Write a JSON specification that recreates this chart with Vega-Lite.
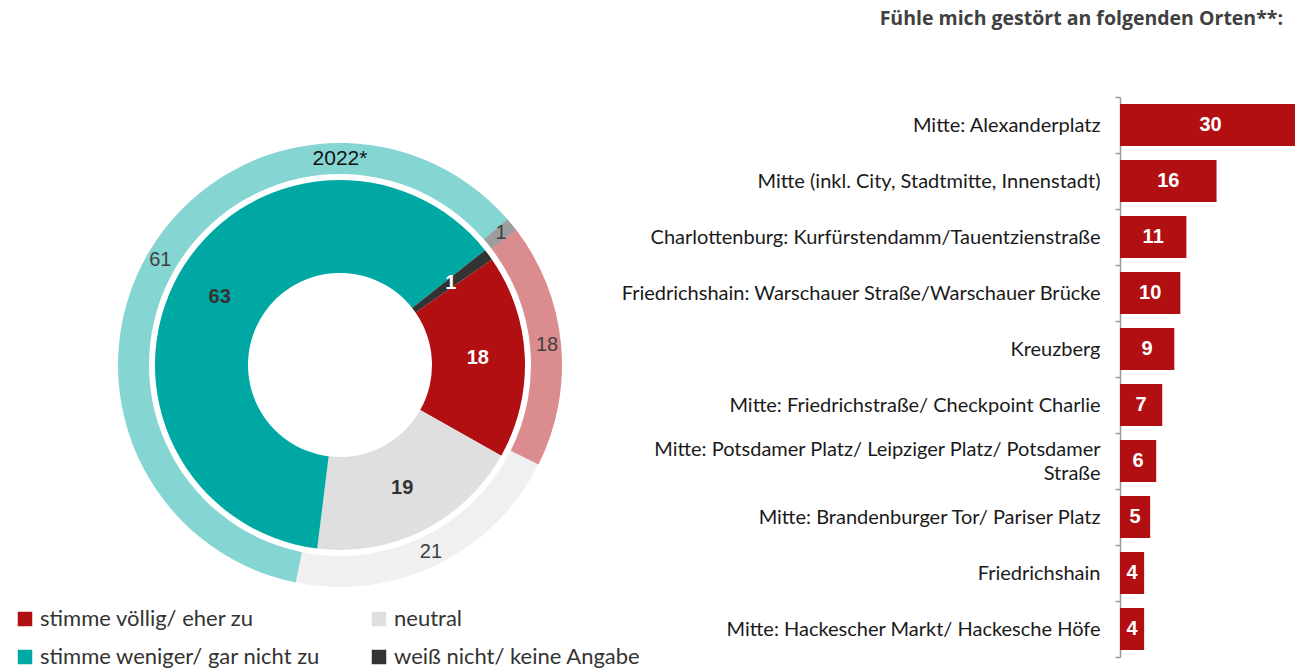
{
  "$schema": "https://vega.github.io/schema/vega-lite/v6.json",
  "padding": {"left": 0, "top": 8, "right": 0, "bottom": 0},
  "background": "white",
  "title": {
    "text": "Fühle mich gestört an folgenden Orten**:",
    "anchor": "end",
    "font": "Open Sans",
    "fontSize": 19.5,
    "fontWeight": "bold",
    "color": "#404040",
    "offset": 58,
    "dx": -12
  },
  "bounds": "flush",
  "spacing": 440,
  "config": {"view": {"stroke": null}},
  "hconcat": [
    {
      "width": 680,
      "height": 536,
      "title": {"text": "2022*", "anchor": "middle", "font": "Liberation Sans", "fontSize": 21, "fontWeight": "normal", "color": "#111111", "offset": -72},
      "layer": [
        {
          "data": {"values": [
            {"cat": "stimme völlig/ eher zu", "v": 18},
            {"cat": "neutral", "v": 21},
            {"cat": "stimme weniger/ gar nicht zu", "v": 61},
            {"cat": "weiß nicht/ keine Angabe", "v": 1}
          ]},
          "transform": [{"window": [{"op": "row_number", "as": "idx"}]}],
          "encoding": {
            "theta": {"field": "v", "type": "quantitative", "stack": true, "scale": {"range": [0.9163, 7.1995]}},
            "order": {"field": "idx", "type": "quantitative"}
          },
          "layer": [
            {
              "mark": {"type": "arc", "radius": 222, "radius2": 191, "fillOpacity": 0.48},
              "encoding": {
                "color": {"field": "cat", "type": "nominal",
                  "scale": {"domain": ["stimme völlig/ eher zu", "stimme weniger/ gar nicht zu", "neutral", "weiß nicht/ keine Angabe"],
                            "range": ["#B20F13", "#00A8A4", "#DEDFDE", "#333333"]},
                  "legend": {
                    "orient": "none", "legendX": 14, "legendY": 511,
                    "title": null, "columns": 2, "columnPadding": 47, "rowPadding": 16,
                    "symbolType": "square", "symbolSize": 210, "symbolStrokeWidth": 0, "symbolOpacity": 1,
                    "labelFont": "Lato", "labelFontSize": 22, "labelColor": "#333333", "labelOffset": 4, "labelLimit": 0
                  }}
              }
            },
            {
              "mark": {"type": "text", "radius": 208, "font": "Liberation Sans", "fontSize": 20, "color": "#404040"},
              "encoding": {
                "detail": {"field": "cat"},
                "text": {"field": "v", "type": "quantitative"}
              }
            }
          ]
        },
        {
          "data": {"values": [
            {"cat": "stimme völlig/ eher zu", "v": 18},
            {"cat": "neutral", "v": 19},
            {"cat": "stimme weniger/ gar nicht zu", "v": 63},
            {"cat": "weiß nicht/ keine Angabe", "v": 1}
          ]},
          "transform": [{"window": [{"op": "row_number", "as": "idx"}]}],
          "encoding": {
            "theta": {"field": "v", "type": "quantitative", "stack": true, "scale": {"range": [0.9634, 7.2466]}},
            "order": {"field": "idx", "type": "quantitative"}
          },
          "layer": [
            {
              "mark": {"type": "arc", "radius": 185, "radius2": 92},
              "encoding": {
                "color": {"field": "cat", "type": "nominal"}
              }
            },
            {
              "mark": {"type": "text", "radius": 138, "font": "Liberation Sans", "fontSize": 20, "fontWeight": "bold"},
              "encoding": {
                "detail": {"field": "cat"},
                "text": {"field": "v", "type": "quantitative"},
                "color": {"condition": {"test": "datum.cat == 'stimme völlig/ eher zu' || datum.cat == 'weiß nicht/ keine Angabe'", "value": "white"}, "value": "#333333"}
              }
            }
          ]
        }
      ],
      "resolve": {"scale": {"theta": "independent"}}
    },
    {
      "width": 175,
      "height": 560,
      "data": {"values": [
        {"ort": "Mitte: Alexanderplatz", "v": 30},
        {"ort": "Mitte (inkl. City, Stadtmitte, Innenstadt)", "v": 16},
        {"ort": "Charlottenburg: Kurfürstendamm/Tauentzienstraße", "v": 11},
        {"ort": "Friedrichshain: Warschauer Straße/Warschauer Brücke", "v": 10},
        {"ort": "Kreuzberg", "v": 9},
        {"ort": "Mitte: Friedrichstraße/ Checkpoint Charlie", "v": 7},
        {"ort": "Mitte: Potsdamer Platz/ Leipziger Platz/ Potsdamer Straße", "v": 6},
        {"ort": "Mitte: Brandenburger Tor/ Pariser Platz", "v": 5},
        {"ort": "Friedrichshain", "v": 4},
        {"ort": "Mitte: Hackescher Markt/ Hackesche Höfe", "v": 4}
      ]},
      "encoding": {
        "y": {"field": "ort", "type": "nominal", "sort": null,
          "scale": {"paddingInner": 0, "paddingOuter": 0},
          "axis": {
            "title": null, "domainColor": "#9a9a9a", "domainWidth": 1.5, "tickColor": "#9a9a9a", "tickWidth": 1.5, "tickSize": 5,
            "tickBand": "extent", "labelFont": "Lato", "labelFontSize": 20, "labelColor": "#1a1a1a", "labelPadding": 15, "labelLimit": 0,
            "labelLineHeight": 24,
            "labelOffset": {"condition": {"test": "datum.value == 'Mitte: Potsdamer Platz/ Leipziger Platz/ Potsdamer Straße'", "value": -12}, "value": 0},
            "labelExpr": "datum.label == 'Mitte: Potsdamer Platz/ Leipziger Platz/ Potsdamer Straße' ? ['Mitte: Potsdamer Platz/ Leipziger Platz/ Potsdamer', 'Straße'] : datum.label"
          }}
      },
      "layer": [
        {
          "mark": {"type": "bar", "color": "#B20F13", "height": {"band": 0.75}, "clip": true},
          "encoding": {
            "x": {"field": "v", "type": "quantitative", "scale": {"domain": [0, 29], "nice": false}, "axis": null}
          }
        },
        {
          "mark": {"type": "text", "font": "Liberation Sans", "fontSize": 20, "fontWeight": "bold", "color": "white"},
          "encoding": {
            "x": {"field": "v", "type": "quantitative", "stack": "zero", "bandPosition": 0.5},
            "text": {"field": "v", "type": "quantitative"}
          }
        }
      ]
    }
  ]
}
